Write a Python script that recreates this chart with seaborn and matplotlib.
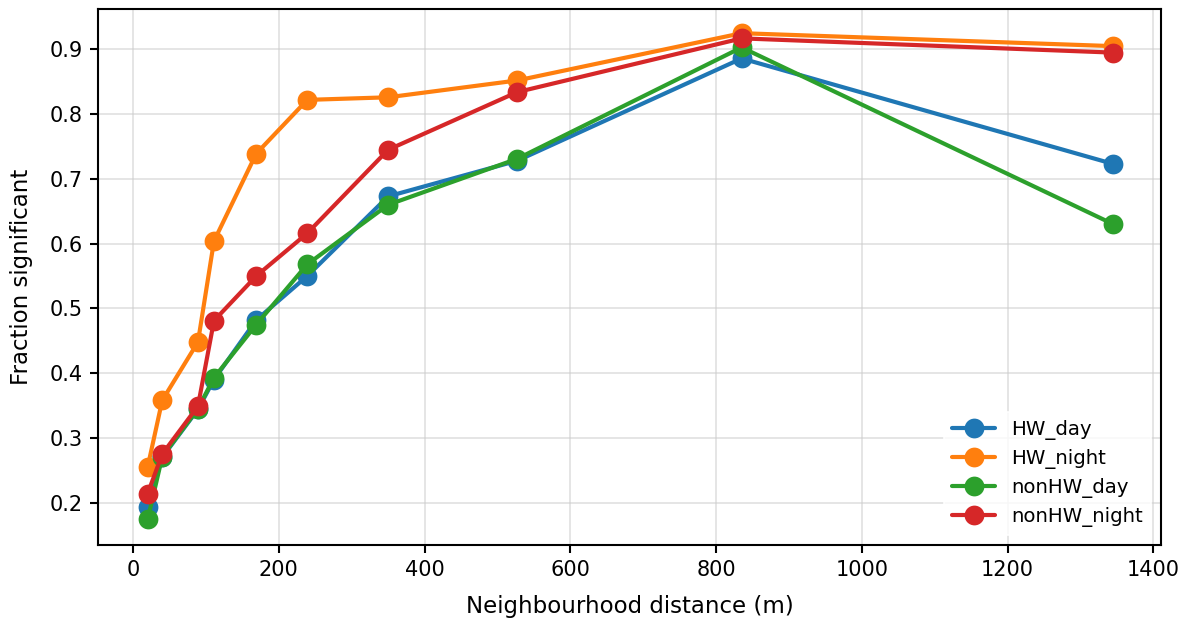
import matplotlib
matplotlib.use("Agg")
import matplotlib.pyplot as plt
import seaborn as sns
import pandas as pd

distance = [20, 40, 89, 111, 169, 239, 350, 527, 835, 1345]
hw_day = [0.194, 0.270, 0.344, 0.390, 0.482, 0.550, 0.673, 0.728, 0.886, 0.723]
hw_night = [0.255, 0.358, 0.448, 0.604, 0.739, 0.822, 0.826, 0.852, 0.925, 0.905]
nonhw_day = [0.174, 0.271, 0.345, 0.393, 0.475, 0.568, 0.660, 0.731, 0.903, 0.630]
nonhw_night = [0.214, 0.275, 0.349, 0.481, 0.550, 0.616, 0.745, 0.834, 0.917, 0.895]
series_names = ["HW_day", "HW_night", "nonHW_day", "nonHW_night"]
colors = ["#1f77b4", "#ff7f0e", "#2ca02c", "#d62728"]

rows = []
for name, vals in zip(series_names, [hw_day, hw_night, nonhw_day, nonhw_night]):
    for d, v in zip(distance, vals):
        rows.append({"distance": d, "frac": v, "series": name})
df = pd.DataFrame(rows)

sns.set_style("ticks", {"axes.edgecolor": "black", "text.color": "black",
                        "axes.labelcolor": "black", "xtick.color": "black",
                        "ytick.color": "black"})
plt.rcParams["font.family"] = ["DejaVu Sans"]
fig, ax = plt.subplots(figsize=(7.88, 4.127), dpi=150)
sns.lineplot(data=df, x="distance", y="frac", hue="series", hue_order=series_names,
             palette=colors, marker="o", markersize=9.5, markeredgewidth=0,
             linewidth=2.0, ax=ax)
ax.grid(True, color="#cccccc", alpha=0.6, linewidth=0.8)
ax.set_xlabel("Neighbourhood distance (m)", fontsize=11, labelpad=7)
ax.set_ylabel("Fraction significant", fontsize=11, labelpad=8)
ax.tick_params(labelsize=10, width=1, length=4)
for s in ax.spines.values():
    s.set_linewidth(1)
ax.set_xlim(-48, 1410)
ax.set_ylim(0.135, 0.962)
leg = ax.legend(loc="lower right", fontsize=9.5, frameon=True, labelspacing=0.45,
                handlelength=2.2)
leg.get_frame().set_edgecolor("white")
fig.subplots_adjust(left=0.083, right=0.982, top=0.985, bottom=0.12)
fig.savefig("out.png", dpi=150)
